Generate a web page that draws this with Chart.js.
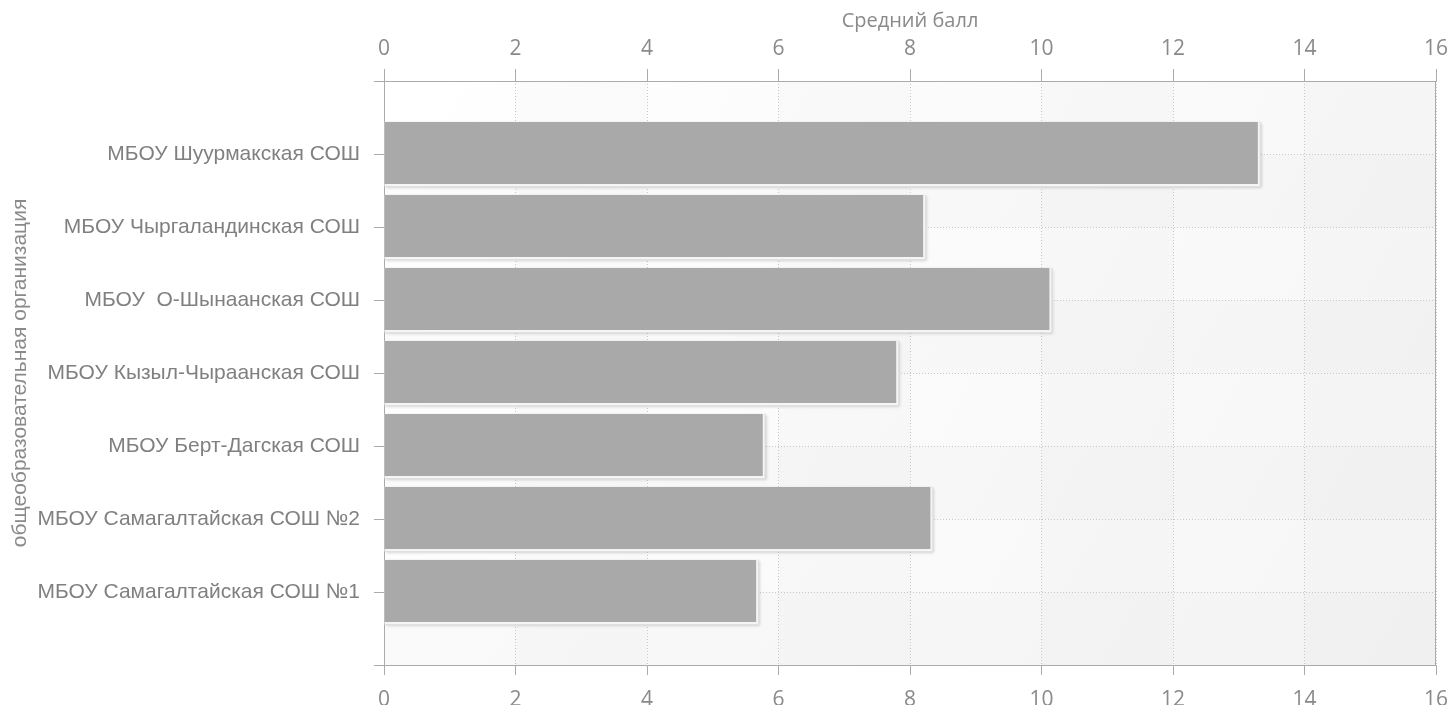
<!DOCTYPE html>
<html>
<head>
<meta charset="utf-8">
<script src="https://cdn.jsdelivr.net/npm/chart.js@4.4.1/dist/chart.umd.min.js"></script>
<style>
    html, body { margin: 0; padding: 0; background: #fff; }
    #wrap { width: 1449px; height: 705px; }
</style>
</head>
<body>
<div id="wrap"><canvas id="chart"></canvas></div>
<script>
// Data (top to bottom as in the picture)
const schools = [
    'МБОУ Шуурмакская СОШ',
    'МБОУ Чыргаландинская СОШ',
    'МБОУ  О-Шынаанская СОШ',
    'МБОУ Кызыл-Чыраанская СОШ',
    'МБОУ Берт-Дагская СОШ',
    'МБОУ Самагалтайская СОШ №2',
    'МБОУ Самагалтайская СОШ №1'
];
const avgScore = [13.32, 8.23, 10.15, 7.82, 5.79, 8.34, 5.69];
const scoreMin = 0;
const scoreMax = 16;
const scoreStep = 2;

const xTitle = 'Средний балл';
const yTitle = 'общеобразовательная организация';

const textColor = '#8a8a8a';
const axisColor = '#ababab';
const gridColor = '#c8c8c8';

// Faint checkered background with a soft gradient
const plotBackground = {
    id: 'plotBackground',
    beforeDraw(chart) {
        const { ctx, chartArea: a, scales } = chart;
        ctx.save();
        const g = ctx.createLinearGradient(a.left, a.top, a.right, a.bottom);
        g.addColorStop(0, '#ffffff');
        g.addColorStop(1, '#f6f6f6');
        ctx.fillStyle = g;
        ctx.fillRect(a.left, a.top, a.width, a.height);
        const xs = scales.x, ys = scales.y;
        for (let c = scoreMin; c < scoreMax; c += scoreStep) {
            for (let r = ys.min; r < ys.max; r++) {
                const odd = ((c / scoreStep) % 2) + ((r - ys.min) % 2);
                if (!odd) continue;
                const x1 = xs.getPixelForValue(c), x2 = xs.getPixelForValue(c + scoreStep);
                const y1 = ys.getPixelForValue(r), y2 = ys.getPixelForValue(r + 1);
                ctx.fillStyle = 'rgba(0,0,0,' + (0.012 * odd) + ')';
                ctx.fillRect(x1, Math.min(y1, y2), x2 - x1, Math.abs(y2 - y1));
            }
        }
        ctx.restore();
    },
    afterDraw(chart) {
        // right frame line
        const { ctx, chartArea: a } = chart;
        ctx.save();
        ctx.strokeStyle = axisColor;
        ctx.lineWidth = 1;
        ctx.beginPath();
        ctx.moveTo(a.right - 0.5, a.top);
        ctx.lineTo(a.right - 0.5, a.bottom);
        ctx.stroke();
        ctx.restore();
    }
};

// Soft drop shadow under each bar
const barShadow = {
    id: 'barShadow',
    beforeDatasetsDraw(chart) {
        const ctx = chart.ctx;
        const meta = chart.getDatasetMeta(0);
        ctx.save();
        ctx.shadowColor = 'rgba(0,0,0,0.22)';
        ctx.shadowBlur = 3;
        ctx.shadowOffsetX = 1;
        ctx.shadowOffsetY = 1;
        ctx.fillStyle = '#e0e0e0';
        meta.data.forEach(el => {
            const p = el.getProps(['x', 'y', 'base', 'height'], true);
            ctx.fillRect(p.base, p.y - p.height / 2, p.x - p.base + 1, p.height + 1);
        });
        ctx.restore();
    }
};

const tickFont = { family: '"Open Sans", sans-serif', size: 21 };

const ctx = document.getElementById('chart').getContext('2d');
new Chart(ctx, {
    type: 'bar',
    data: {
        datasets: [{
            data: avgScore.map((v, i) => ({ x: v, y: i })),
            backgroundColor: '#a9a9a9',
            borderColor: '#f5f5f5',
            borderWidth: { top: 0, left: 0, right: 2, bottom: 2 },
            borderSkipped: false,
            barPercentage: 0.88,
            categoryPercentage: 1
        }]
    },
    options: {
        indexAxis: 'y',
        responsive: true,
        maintainAspectRatio: false,
        animation: false,
        layout: { padding: { right: 13 } },
        plugins: {
            legend: { display: false },
            tooltip: { enabled: false }
        },
        scales: {
            x: {
                type: 'linear',
                position: 'bottom',
                min: scoreMin,
                max: scoreMax,
                ticks: { stepSize: scoreStep, color: textColor, font: tickFont, padding: 12 },
                grid: { color: gridColor, tickColor: axisColor, tickLength: 10 },
                border: { color: axisColor, dash: [1, 2] },
                afterFit: s => { s.height = 40; s.paddingLeft = 0; s.paddingRight = 0; }
            },
            x2: {
                type: 'linear',
                position: 'top',
                min: scoreMin,
                max: scoreMax,
                ticks: { stepSize: scoreStep, color: textColor, font: tickFont, padding: 7 },
                grid: { drawOnChartArea: false, tickColor: axisColor, tickLength: 12 },
                border: { color: axisColor },
                title: {
                    display: true,
                    text: xTitle,
                    color: textColor,
                    font: { family: '"Open Sans", sans-serif', size: 20 },
                    padding: { top: 9, bottom: 0 }
                },
                afterFit: s => { s.height = 81; s.paddingLeft = 0; s.paddingRight = 0; }
            },
            y: {
                type: 'linear',
                min: -1,
                max: schools.length,
                reverse: true,
                offset: false,
                ticks: {
                    stepSize: 1,
                    autoSkip: false,
                    color: '#808080',
                    font: { family: '"Liberation Sans", Arial, sans-serif', size: 21 },
                    padding: 14,
                    callback: v => schools[v] ?? ''
                },
                grid: { offset: false, color: gridColor, tickColor: axisColor, tickLength: 10 },
                border: { color: axisColor, dash: [1, 2] },
                title: {
                    display: true,
                    text: yTitle,
                    color: '#8a8a8a',
                    font: { family: '"Liberation Sans", Arial, sans-serif', size: 21 },
                    padding: { top: 8, bottom: 0 }
                },
                afterFit: s => { s.width = 384; }
            }
        }
    },
    plugins: [plotBackground, barShadow]
});
</script>
</body>
</html>
